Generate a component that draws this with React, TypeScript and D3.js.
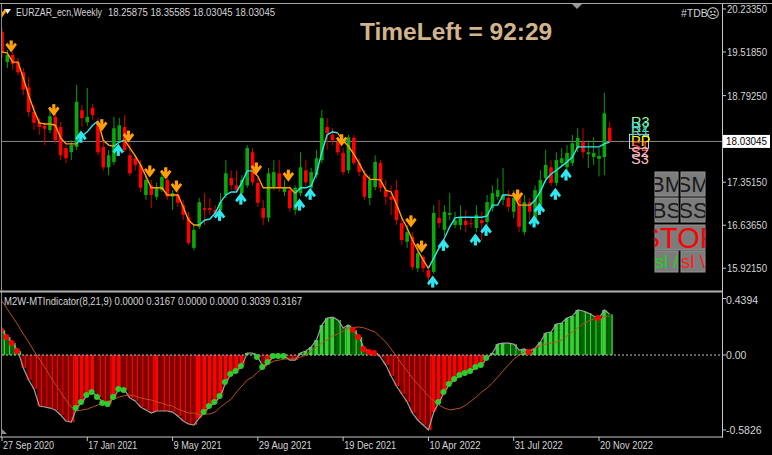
import React from "react";
import * as d3 from "d3";

// ---------- DATA ----------
const dateLabels = ["27 Sep 2020", "17 Jan 2021", "9 May 2021", "29 Aug 2021", "19 Dec 2021", "10 Apr 2022", "31 Jul 2022", "20 Nov 2022"];
const dateLabelBars = [0, 16, 32, 48, 64, 80, 96, 112];

const opens = [
  19.85, 19.35, 19.47, 19.35, 19.18, 18.93, 18.52, 18.35, 18.29, 18.22,
  18.44, 18.27, 17.92, 17.85, 17.94, 18.55, 18.35, 18.59, 18.35, 17.94,
  17.60, 17.69, 18.05, 18.27, 17.80, 17.75, 17.64, 17.14, 17.30, 17.11,
  17.22, 17.39, 17.11, 17.14, 16.97, 16.77, 16.26, 16.61, 16.92, 16.92,
  16.89, 16.89, 17.14, 17.42, 17.30, 17.17, 17.30, 17.85, 17.34, 16.92,
  16.76, 17.26, 17.50, 17.19, 17.22, 16.89, 17.17, 17.55, 17.26, 17.47,
  17.72, 18.27, 18.14, 18.02, 17.84, 17.55, 18.09, 17.67, 17.47, 17.09,
  17.27, 17.67, 17.22, 17.11, 17.22, 16.67, 16.36, 16.44, 15.92, 16.11,
  15.89, 15.86, 16.76, 16.56, 16.81, 16.64, 16.64, 16.71, 16.67, 16.59,
  16.72, 16.69, 16.92, 17.11, 17.06, 17.09, 16.86, 17.14, 16.52, 17.02,
  16.72, 16.97, 17.42, 17.60, 17.34, 17.67, 17.60, 17.67, 17.92, 18.02,
  17.82, 17.77, 17.74, 17.77, 18.25875,
];
const highs = [
  19.92, 19.55, 19.52, 19.42, 19.25, 19.10, 18.64, 18.42, 18.35, 18.59,
  18.52, 18.35, 17.97, 18.05, 18.97, 18.64, 18.92, 18.65, 18.42, 18.05,
  17.89, 18.44, 18.42, 18.47, 18.00, 17.80, 17.72, 17.47, 17.39, 17.34,
  17.55, 17.47, 17.22, 17.22, 17.06, 16.86, 16.64, 17.09, 17.17, 17.09,
  16.97, 17.17, 17.72, 17.55, 17.55, 17.47, 17.97, 17.92, 17.42, 17.06,
  17.59, 17.72, 17.72, 17.39, 17.30, 17.30, 17.85, 17.72, 17.59, 17.89,
  18.55, 18.42, 18.25, 18.10, 17.92, 18.14, 18.14, 17.75, 17.55, 17.47,
  17.80, 17.72, 17.39, 17.30, 17.39, 16.76, 16.64, 16.52, 16.26, 16.14,
  15.97, 16.97, 17.06, 16.97, 17.17, 16.86, 16.97, 16.89, 16.76, 16.97,
  16.86, 17.14, 17.30, 17.42, 17.59, 17.22, 17.22, 17.22, 17.14, 17.09,
  17.30, 17.55, 17.89, 17.72, 17.85, 17.92, 17.97, 18.14, 18.25, 18.25,
  18.05, 18.10, 17.92, 18.84, 18.35585,
];
const lows = [
  19.42, 19.25, 19.22, 19.13, 18.80, 18.44, 18.22, 18.14, 17.97, 18.17,
  18.00, 17.72, 17.67, 17.72, 17.89, 18.27, 18.29, 18.39, 17.80, 17.55,
  17.47, 17.64, 18.02, 17.85, 17.45, 17.55, 17.19, 17.06, 16.92, 17.06,
  17.19, 17.06, 16.89, 16.94, 16.72, 16.31, 16.22, 16.57, 16.64, 16.81,
  16.76, 16.86, 17.09, 17.22, 17.19, 17.12, 17.26, 17.30, 16.94, 16.64,
  16.69, 17.22, 17.19, 17.12, 16.86, 16.81, 17.12, 17.29, 17.22, 17.42,
  17.67, 17.89, 17.97, 17.80, 17.47, 17.50, 17.64, 17.45, 17.06, 16.97,
  17.22, 17.19, 16.97, 16.81, 16.64, 16.31, 16.26, 15.89, 15.86, 15.86,
  15.69, 15.83, 16.59, 16.46, 16.72, 16.59, 16.56, 16.52, 16.59, 16.52,
  16.39, 16.64, 16.86, 17.06, 16.97, 16.86, 16.76, 16.52, 16.47, 16.72,
  16.64, 16.89, 17.35, 17.29, 17.29, 17.62, 17.52, 17.62, 17.85, 17.75,
  17.59, 17.64, 17.45, 17.47, 18.03045,
];
const closes = [
  19.50, 19.47, 19.32, 19.18, 18.89, 18.52, 18.34, 18.27, 18.24, 18.45,
  18.05, 17.80, 17.75, 17.97, 18.69, 18.42, 18.44, 18.47, 17.85, 17.60,
  17.80, 18.25, 18.30, 17.89, 17.50, 17.64, 17.26, 17.39, 17.14, 17.27,
  17.44, 17.11, 17.17, 17.01, 16.81, 16.34, 16.56, 17.02, 16.89, 16.89,
  16.84, 17.02, 17.50, 17.30, 17.22, 17.39, 17.92, 17.35, 17.01, 16.76,
  17.50, 17.52, 17.26, 17.27, 16.92, 17.26, 17.60, 17.35, 17.52, 17.75,
  18.42, 18.17, 18.05, 17.85, 17.52, 18.10, 17.67, 17.52, 17.11, 17.39,
  17.69, 17.26, 17.11, 17.06, 16.72, 16.39, 16.52, 15.94, 16.17, 15.92,
  15.77, 16.84, 16.67, 16.86, 16.84, 16.72, 16.76, 16.64, 16.66, 16.81,
  16.67, 17.02, 17.17, 17.22, 17.14, 16.94, 17.09, 16.61, 17.02, 16.86,
  17.22, 17.39, 17.64, 17.34, 17.72, 17.75, 17.84, 18.00, 18.09, 17.85,
  17.85, 17.84, 17.79, 18.50, 18.03045,
];

const trendLine = [
  19.52, 19.50, 19.35, 19.35, 19.08, 18.80, 18.55, 18.34, 18.32, 18.32,
  18.30, 18.09, 17.99, 17.99, 17.99, 18.12, 18.19, 18.30, 18.37, 18.05,
  17.97, 17.95, 18.02, 18.05, 17.92, 17.79, 17.64, 17.45, 17.26, 17.26,
  17.26, 17.14, 17.14, 17.14, 16.94, 16.72, 16.64, 16.64, 16.72, 16.74,
  16.84, 17.02, 17.14, 17.19, 17.19, 17.35, 17.54, 17.54, 17.45, 17.26,
  17.26, 17.26, 17.26, 17.26, 17.26, 17.17, 17.26, 17.26, 17.29, 17.50,
  17.85, 18.14, 18.19, 18.17, 18.04, 17.95, 17.82, 17.67, 17.50, 17.40,
  17.40, 17.39, 17.22, 17.19, 16.99, 16.76, 16.59, 16.39, 16.22, 16.06,
  15.92, 16.09, 16.26, 16.42, 16.61, 16.76, 16.77, 16.77, 16.77, 16.77,
  16.77, 16.79, 16.97, 16.97, 17.14, 17.14, 17.12, 16.97, 16.97, 16.97,
  17.05, 17.20, 17.39, 17.49, 17.55, 17.62, 17.69, 17.77, 17.94, 17.94,
  17.94, 17.94, 17.94, 17.99, 18.02,
];
// d = down (orange), u = up (cyan), one char per bar
const trendDir = (
  "ddddddddddddddd" + "uuuu" + "ddd" + "uu" + "dddddddddddddd" + "uuuuuuuuuu" +
  "dddddddd" + "uuuuuuuu" + "ddddddddddddddddd" + "uuuuuuuuuuuuuuu" + "dddd" + "uuuuuuuuuuuuuuu"
).split("");

const sellArrowBars = [0, 2, 10, 19, 24, 28, 31, 33, 48, 54, 64, 77, 79, 97];
const sellArrowPrices = [20.05, 19.50, 18.44, 18.19, 18.00, 17.42, 17.39, 17.17, 17.47, 17.35, 17.94, 16.59, 16.17, 17.02];
const buyArrowBars = [15, 22, 41, 45, 56, 58, 81, 83, 89, 91, 100, 101, 104, 106];
const buyArrowPrices = [18.22, 18.00, 16.92, 17.19, 17.09, 17.27, 15.81, 16.42, 16.51, 16.67, 16.81, 17.02, 17.27, 17.59];

const priceTicks = [20.2335, 19.5185, 18.7925, 17.3515, 16.6365, 15.9215];
const lastPrice = 18.03045;

const pivotLabels = ["R3", "R2", "R1", "PP", "S1", "S2", "S3"];
const pivotPrices = [18.36, 18.27, 18.20, 18.04, 17.96, 17.86, 17.74];
const pivotColors = ["#98fb98", "#40e0d0", "#66cdaa", "#ffff00", "#ff4040", "#ffb6c1", "#ffc0cb"];

const macd = [
  0.194, 0.140, 0.093, 0.031, -0.101, -0.194, -0.264, -0.396, -0.404, -0.412,
  -0.427, -0.466, -0.513, -0.521, -0.412, -0.365, -0.311, -0.287, -0.326, -0.373,
  -0.381, -0.326, -0.264, -0.272, -0.334, -0.357, -0.404, -0.427, -0.451, -0.435,
  -0.435, -0.435, -0.443, -0.474, -0.513, -0.536, -0.544, -0.490, -0.443, -0.396,
  -0.365, -0.319, -0.210, -0.148, -0.124, -0.085, 0.016, 0.016, -0.016, -0.093,
  -0.054, -0.008, -0.008, -0.008, -0.039, -0.039, 0.016, 0.031, 0.062, 0.117,
  0.233, 0.287, 0.295, 0.272, 0.210, 0.233, 0.194, 0.140, 0.047, 0.023,
  0.016, -0.016, -0.078, -0.163, -0.241, -0.303, -0.365, -0.451, -0.505, -0.544,
  -0.5826, -0.443, -0.365, -0.287, -0.225, -0.186, -0.155, -0.140, -0.124, -0.093,
  -0.078, -0.023, 0.016, 0.085, 0.093, 0.093, 0.085, 0.039, 0.047, 0.023,
  0.054, 0.101, 0.171, 0.179, 0.241, 0.249, 0.287, 0.303, 0.350, 0.342,
  0.326, 0.303, 0.287, 0.350, 0.3167,
];
const signal = [
  0.420, 0.357, 0.295, 0.233, 0.163, 0.101, 0.031, -0.031, -0.093, -0.163,
  -0.225, -0.287, -0.350, -0.404, -0.435, -0.427, -0.420, -0.404, -0.389, -0.373,
  -0.357, -0.342, -0.326, -0.315, -0.311, -0.319, -0.334, -0.342, -0.350, -0.365,
  -0.373, -0.389, -0.396, -0.420, -0.435, -0.451, -0.451, -0.466, -0.458, -0.458,
  -0.443, -0.404, -0.373, -0.342, -0.287, -0.241, -0.194, -0.171, -0.132, -0.101,
  -0.070, -0.047, -0.039, -0.031, -0.031, -0.023, -0.016, 0.000, 0.031, 0.062,
  0.093, 0.117, 0.148, 0.163, 0.186, 0.210, 0.214, 0.218, 0.210, 0.194,
  0.179, 0.140, 0.101, 0.047, -0.008, -0.070, -0.124, -0.179, -0.225, -0.272,
  -0.319, -0.357, -0.389, -0.412, -0.427, -0.420, -0.412, -0.389, -0.357, -0.326,
  -0.287, -0.256, -0.218, -0.171, -0.124, -0.078, -0.031, 0.000, 0.023, 0.039,
  0.054, 0.070, 0.085, 0.093, 0.101, 0.117, 0.148, 0.179, 0.210, 0.241,
  0.264, 0.280, 0.295, 0.300, 0.3039,
];
const greenDotBars = [14, 15, 16, 17, 18, 19, 20, 21, 22, 23, 38, 39, 40, 41, 42, 43, 44, 45, 48, 49, 50, 51, 52, 53, 82, 83, 84, 85, 86, 87, 88, 89, 90, 91];
const redDotBars = [0, 1, 2, 3, 66, 67, 68, 69, 70, 99, 112];
const indTicks = [0.4394, 0, -0.5826];
const indTickLabels = ["0.4394", "0.00", "-0.5826"];

// ---------- STYLE ----------
const FONT = "'Liberation Sans', Arial, sans-serif";
const TXT = "#d4d4d4";
const BULL = "#0aa80a";
const BEAR = "#ff0000";
const ORANGE = "#ffa00a";
const CYAN = "#2ee8ee";
const dateLabelWidths = [51, 49, 48, 53, 52, 51, 48, 53];

const buttons = [
  { x: 655, y: 172, w: 23, h: 24, label: "BM", color: "#1a1a1a", size: 22 },
  { x: 681, y: 172, w: 24, h: 24, label: "SM", color: "#1a1a1a", size: 22 },
  { x: 655, y: 198, w: 23, h: 24, label: "BS", color: "#1a1a1a", size: 22 },
  { x: 681, y: 198, w: 24, h: 24, label: "SS", color: "#1a1a1a", size: 22 },
  { x: 655, y: 225, w: 50, h: 25, label: "STOP", color: "#ff0000", size: 29 },
  { x: 655, y: 251, w: 23, h: 21, label: "sl /", color: "#1ed31e", size: 19 },
  { x: 681, y: 251, w: 24, h: 21, label: "sl \\", color: "#ff1a1a", size: 19 },
];

function DownArrow({ x, y, color }: { x: number; y: number; color: string }) {
  return (
    <g transform={`translate(${x},${y}) scale(1.15)`} fill={color}>
      <rect x={-1.4} y={-11} width={2.8} height={7} />
      <polygon points="-5,-7.2 -3.3,-8.9 0,-5.4 3.3,-8.9 5,-7.2 0,-0.5" />
    </g>
  );
}
function UpArrow({ x, y, color }: { x: number; y: number; color: string }) {
  return (
    <g transform={`translate(${x},${y}) scale(1.15)`} fill={color}>
      <rect x={-1.4} y={4} width={2.8} height={7} />
      <polygon points="-5,7.2 -3.3,8.9 0,5.4 3.3,8.9 5,7.2 0,0.5" />
    </g>
  );
}

export default function App() {
  const n = closes.length;
  const x = d3.scaleLinear().domain([0, 112]).range([2, 599]);
  const y = d3.scaleLinear().domain([15.9215, 20.2335]).range([268.2, 9]);
  const yi = d3.scaleLinear().domain([-0.5826, 0.4394]).range([430, 298.5]);
  const idx = d3.range(n);

  const runs: { color: string; pts: number[] }[] = [];
  for (let i = 1; i < n; i++) {
    const c = trendDir[i] === "u" ? CYAN : ORANGE;
    const last = runs[runs.length - 1];
    if (last && last.color === c) last.pts.push(i);
    else runs.push({ color: c, pts: [i - 1, i] });
  }
  const tl = d3.line<number>().x((i) => x(i)).y((i) => y(trendLine[i]));
  const grayLine = d3.line<number>().x((i) => x(i)).y((i) => yi(macd[i]));
  const sigLine = d3.line<number>().x((i) => x(i)).y((i) => yi(signal[i]));

  const fmtP = d3.format(".5f");

  return (
    <svg width={772} height={455} style={{ position: "absolute", left: 0, top: 0, background: "#000" }} fontFamily={FONT}>
      <defs>
        <clipPath id="mainClip"><rect x={2} y={4.5} width={720} height={286} /></clipPath>
        <clipPath id="indClip"><rect x={2} y={293} width={720} height={144} /></clipPath>
        {buttons.map((b, k) => (
          <clipPath id={`bclip${k}`} key={k}><rect x={b.x} y={b.y} width={b.w} height={b.h} /></clipPath>
        ))}
      </defs>
      <rect x={0} y={0} width={772} height={455} fill="#000" />

      {/* frame */}
      <line x1={0} x2={772} y1={3.5} y2={3.5} stroke="#a8a8a8" strokeWidth={1.2} />
      <line x1={1.5} x2={1.5} y1={4} y2={437} stroke="#8c8c8c" strokeWidth={1} />
      <line x1={722.5} x2={722.5} y1={4} y2={437.5} stroke="#c8c8c8" strokeWidth={1} />
      <line x1={0} x2={723} y1={291.5} y2={291.5} stroke="#b0b0b0" strokeWidth={2} />
      <line x1={0} x2={723} y1={437} y2={437} stroke="#c8c8c8" strokeWidth={1} />

      {/* header */}
      <polygon points="4,9 11,9 7.5,14" fill="#e8e8e8" />
      <text x={16} y={16} fontSize={10.5} fill={TXT} textLength={86} lengthAdjust="spacingAndGlyphs">EURZAR_ecn,Weekly</text>
      <text x={108} y={16} fontSize={10.5} fill={TXT} textLength={167} lengthAdjust="spacingAndGlyphs">18.25875 18.35585 18.03045 18.03045</text>
      <text x={360} y={40} fontSize={24.5} fontWeight="bold" fill="#d2b48c">TimeLeft = 92:29</text>
      <text x={681} y={17} fontSize={10.5} fill={TXT}>#TDB</text>
      <text x={706} y={18} fontSize={13} fill={TXT} fontFamily="'DejaVu Sans', sans-serif">☹</text>
      <polygon points="572,4 582,4 577,9" fill="#9a9a9a" />

      {/* price axis */}
      {priceTicks.map((p) => (
        <g key={p}>
          <line x1={722} x2={726} y1={y(p)} y2={y(p)} stroke="#c8c8c8" />
          <text x={727} y={y(p) + 4} fontSize={10.5} fill={TXT} textLength={40} lengthAdjust="spacingAndGlyphs">{fmtP(p)}</text>
        </g>
      ))}

      {/* main pane */}
      <g clipPath="url(#mainClip)">
        <line x1={2} x2={722} y1={y(lastPrice)} y2={y(lastPrice)} stroke="#8a8a8a" strokeWidth={1} />
        {idx.map((i) => {
          const up = closes[i] >= opens[i];
          const c = up ? BULL : BEAR;
          const top = y(Math.max(opens[i], closes[i]));
          const bot = y(Math.min(opens[i], closes[i]));
          return (
            <g key={i}>
              <line x1={x(i)} x2={x(i)} y1={y(highs[i])} y2={y(lows[i])} stroke={up ? "#0a9a0a" : "#d00000"} strokeWidth={1} />
              <rect x={x(i) - 1.8} y={top} width={3.6} height={Math.max(1, bot - top)} fill={c} />
            </g>
          );
        })}
        {runs.map((r, k) => (
          <path key={k} d={tl(r.pts) || ""} fill="none" stroke={r.color} strokeWidth={1.4} />
        ))}
        {sellArrowBars.map((b, k) => (
          <DownArrow key={"s" + k} x={x(b) - 1.5} y={y(sellArrowPrices[k])} color={ORANGE} />
        ))}
        {buyArrowBars.map((b, k) => (
          <UpArrow key={"b" + k} x={x(b) - 1} y={y(buyArrowPrices[k])} color={CYAN} />
        ))}
      </g>

      {/* pivot labels */}
      <rect x={629.5} y={y(pivotPrices[3]) - 6.5} width={19} height={14} fill="none" stroke="#add8e6" strokeWidth={1} />
      {pivotLabels.map((l, k) => (
        <text key={l} x={631} y={y(pivotPrices[k]) + 5} fontSize={14.5} fill={pivotColors[k]}>{l}</text>
      ))}

      {/* last price box */}
      <rect x={723} y={y(lastPrice) - 6.5} width={47} height={13} fill="#ffffff" />
      <text x={726} y={y(lastPrice) + 4} fontSize={10.5} fill="#000" textLength={41} lengthAdjust="spacingAndGlyphs">{fmtP(lastPrice)}</text>

      {/* buttons */}
      {buttons.map((b, k) => (
        <g key={k}>
          <rect x={b.x} y={b.y} width={b.w} height={b.h} fill="#7c7c7c" stroke="#969696" strokeWidth={1} />
          <text clipPath={`url(#bclip${k})`} x={b.x + b.w / 2} y={b.y + b.h / 2 + b.size * 0.36} fontSize={b.size} textAnchor="middle" fill={b.color}>{b.label}</text>
        </g>
      ))}

      {/* indicator pane */}
      <g clipPath="url(#indClip)">
        {idx.map((i) => {
          const v = macd[i];
          const prev = i > 0 ? macd[i - 1] : v + 0.01;
          const rising = v > prev;
          const pos = v >= 0;
          const bright = pos ? "#36d136" : "#ff0000";
          const dark = pos ? "#006400" : "#800000";
          const main = rising ? bright : dark;
          const sec = rising ? dark : bright;
          const t = yi(Math.max(v, 0));
          const b = yi(Math.min(v, 0));
          return (
            <g key={i}>
              <rect x={x(i) - 2.2} y={t} width={3.8} height={b - t} fill={main} />
              <rect x={x(i) + 1.6} y={t} width={1.5} height={b - t} fill={sec} />
            </g>
          );
        })}
        <line x1={2} x2={722} y1={yi(0)} y2={yi(0)} stroke="#c8c8c8" strokeDasharray="2,2" strokeWidth={1} />
        <path d={grayLine(idx) || ""} fill="none" stroke="#a0a0a0" strokeWidth={1.2} />
        <path d={sigLine(idx) || ""} fill="none" stroke="#b8521e" strokeWidth={1} />
        {greenDotBars.map((b) => (
          <circle key={"g" + b} cx={x(b) - 1} cy={yi(macd[b])} r={3} fill="#2ecc2e" />
        ))}
        {redDotBars.map((b) => (
          <circle key={"r" + b} cx={x(b) - 1} cy={yi(macd[b])} r={3} fill="#ff0000" />
        ))}
      </g>
      <polygon points="2,429 2,434 7,434" fill="#8a8a8a" />
      <text x={4} y={305} fontSize={10.5} fill={TXT} textLength={298} lengthAdjust="spacingAndGlyphs">M2W-MTIndicator(8,21,9) 0.0000 0.3167 0.0000 0.0000 0.3039 0.3167</text>
      {indTicks.map((v, k) => (
        <g key={k}>
          <line x1={722} x2={726} y1={yi(v)} y2={yi(v)} stroke="#c8c8c8" />
          <text x={726} y={(k === 0 ? yi(v) + 1.5 : yi(v)) + 4} fontSize={10.5} fill={TXT}>{indTickLabels[k]}</text>
        </g>
      ))}

      {/* time axis */}
      {dateLabelBars.map((b, k) => (
        <g key={k}>
          <line x1={x(b)} x2={x(b)} y1={437} y2={441} stroke="#c8c8c8" />
          <text x={x(b) + 1} y={449} fontSize={10.5} fill={TXT} textLength={dateLabelWidths[k]} lengthAdjust="spacingAndGlyphs">{dateLabels[k]}</text>
        </g>
      ))}
    </svg>
  );
}
